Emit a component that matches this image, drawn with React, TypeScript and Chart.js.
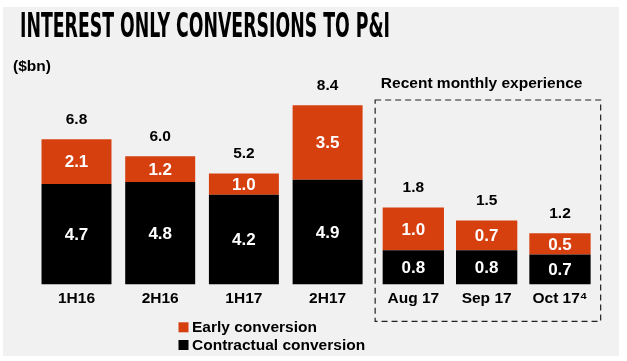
import React, { useEffect, useRef } from "react";
import { Chart, registerables } from "chart.js";

Chart.register(...registerables);

// ---- data ----
const halfLabels = ["1H16", "2H16", "1H17", "2H17"];
const monthLabels = ["Aug 17", "Sep 17", "Oct 17\u2074"];
const halfContractual = [4.7, 4.8, 4.2, 4.9];
const halfEarly = [2.1, 1.2, 1.0, 3.5];
const monthContractual = [0.8, 0.8, 0.7];
const monthEarly = [1.0, 0.7, 0.5];
const seriesNames = ["Early conversion", "Contractual conversion"];
const titleText = "INTEREST ONLY CONVERSIONS TO P&I";
const unitText = "($bn)";
const boxTitle = "Recent monthly experience";

const ORANGE = "#d6400f";
const BLACK = "#000000";
const FONT = "'Liberation Sans', Arial, Helvetica, sans-serif";

const decor = {
  id: "decor",
  beforeDraw(chart: any) {
    const ctx = chart.ctx;
    ctx.save();
    ctx.fillStyle = "#ffffff";
    ctx.fillRect(0, 0, chart.width, chart.height);
    ctx.fillStyle = "#f1f1f1";
    ctx.fillRect(3, 7, 616, 349);
    // title (condensed)
    ctx.fillStyle = "#000";
    ctx.font = "bold 34px 'Liberation Sans Narrow', 'DejaVu Sans Condensed', sans-serif";
    ctx.textAlign = "left";
    ctx.textBaseline = "alphabetic";
    const w = ctx.measureText(titleText).width;
    ctx.translate(20, 37);
    ctx.scale(370 / w, 1);
    ctx.fillText(titleText, 0, 0);
    ctx.restore();

    ctx.save();
    ctx.fillStyle = "#000";
    ctx.font = `bold 15.5px ${FONT}`;
    ctx.textAlign = "left";
    ctx.textBaseline = "middle";
    ctx.fillText(unitText, 13, 66.5);
    ctx.restore();
  },
  afterDatasetsDraw(chart: any) {
    const ctx = chart.ctx;
    const area = chart.chartArea;
    ctx.save();
    ctx.textAlign = "center";
    ctx.textBaseline = "middle";
    // segment labels
    chart.data.datasets.forEach((ds: any, di: number) => {
      const meta = chart.getDatasetMeta(di);
      meta.data.forEach((el: any, i: number) => {
        ctx.fillStyle = "#ffffff";
        ctx.font = `bold 17px ${FONT}`;
        ctx.fillText(Number(ds.data[i]).toFixed(1), el.x, (el.y + el.base) / 2 + 1);
        if (ds.isTop) {
          const total = chart.data.datasets
            .filter((d: any) => d.xAxisID === ds.xAxisID)
            .reduce((s: number, d: any) => s + d.data[i], 0);
          ctx.fillStyle = "#000";
          ctx.font = `bold 15.5px ${FONT}`;
          ctx.fillText(total.toFixed(1), el.x, el.y - 19.5);
        }
      });
    });
    // dashed box
    const sx = chart.scales.x2;
    const left = sx.left - 1.5;
    const right = sx.right + 4;
    const top = area.top + 29;
    const bottom = area.bottom + 37;
    ctx.strokeStyle = "#222";
    ctx.lineWidth = 1.2;
    ctx.setLineDash([6, 4]);
    ctx.strokeRect(left, top, right - left, bottom - top);
    ctx.setLineDash([]);
    ctx.fillStyle = "#000";
    ctx.font = `bold 15.5px ${FONT}`;
    ctx.fillText(boxTitle, (sx.left + sx.right) / 2 - 5, 84);
    // legend
    const items = [
      { label: seriesNames[0], color: ORANGE, y: 327.3 },
      { label: seriesNames[1], color: BLACK, y: 345 },
    ];
    ctx.textAlign = "left";
    items.forEach((it) => {
      ctx.fillStyle = it.color;
      ctx.fillRect(178.5, it.y - 5, 10, 10);
      ctx.fillStyle = "#000";
      ctx.fillText(it.label, 192, it.y + 0.5);
    });
    ctx.restore();
  },
};

export default function App() {
  const ref = useRef<HTMLCanvasElement>(null);
  useEffect(() => {
    const tickFont = { family: FONT, size: 15.5, weight: "bold" as const };
    const common = { categoryPercentage: 1, barPercentage: 0.836, grouped: false, stack: "s" };
    const chart = new Chart(ref.current!, {
      type: "bar",
      data: {
        datasets: [
          { label: seriesNames[1], data: halfContractual, backgroundColor: BLACK, xAxisID: "x", yAxisID: "y", ...common } as any,
          { label: seriesNames[0], data: halfEarly, backgroundColor: ORANGE, xAxisID: "x", yAxisID: "y", ...common, isTop: true } as any,
          { label: seriesNames[1], data: monthContractual, backgroundColor: BLACK, xAxisID: "x2", yAxisID: "y2", ...common } as any,
          { label: seriesNames[0], data: monthEarly, backgroundColor: ORANGE, xAxisID: "x2", yAxisID: "y2", ...common, isTop: true } as any,
        ],
      },
      options: {
        responsive: false,
        devicePixelRatio: 1,
        animation: false,
        layout: { padding: { top: 71, left: 34.65, right: 30.35, bottom: 48 } },
        plugins: { legend: { display: false }, tooltip: { enabled: false } },
        scales: {
          x: {
            type: "category",
            labels: halfLabels,
            stacked: true,
            offset: true,
            position: "bottom",
            stack: "bx",
            stackWeight: 334.8,
            grid: { display: false, drawTicks: false, offset: true },
            border: { display: false },
            ticks: { font: tickFont, color: "#000", padding: 5, maxRotation: 0, autoSkip: false },
          },
          xg: {
            type: "category",
            labels: [""],
            display: false,
            position: "bottom",
            stack: "bx",
            stackWeight: 7.2,
          },
          x2: {
            type: "category",
            labels: monthLabels,
            stacked: true,
            offset: true,
            position: "bottom",
            stack: "bx",
            stackWeight: 220,
            grid: { display: false, drawTicks: false, offset: true },
            border: { display: false },
            ticks: { font: tickFont, color: "#000", padding: 5, maxRotation: 0, autoSkip: false },
          },
          y: { type: "linear", stacked: true, min: 0, max: 10, display: false, position: "left" },
          y2: { type: "linear", stacked: true, min: 0, max: 5, display: false, position: "left" },
        } as any,
      },
      plugins: [decor],
    });
    return () => chart.destroy();
  }, []);
  return (
    <div style={{ position: "absolute", left: 0, top: 0, width: 627, height: 361 }}>
      <canvas ref={ref} width={627} height={361} style={{ display: "block" }} />
    </div>
  );
}
